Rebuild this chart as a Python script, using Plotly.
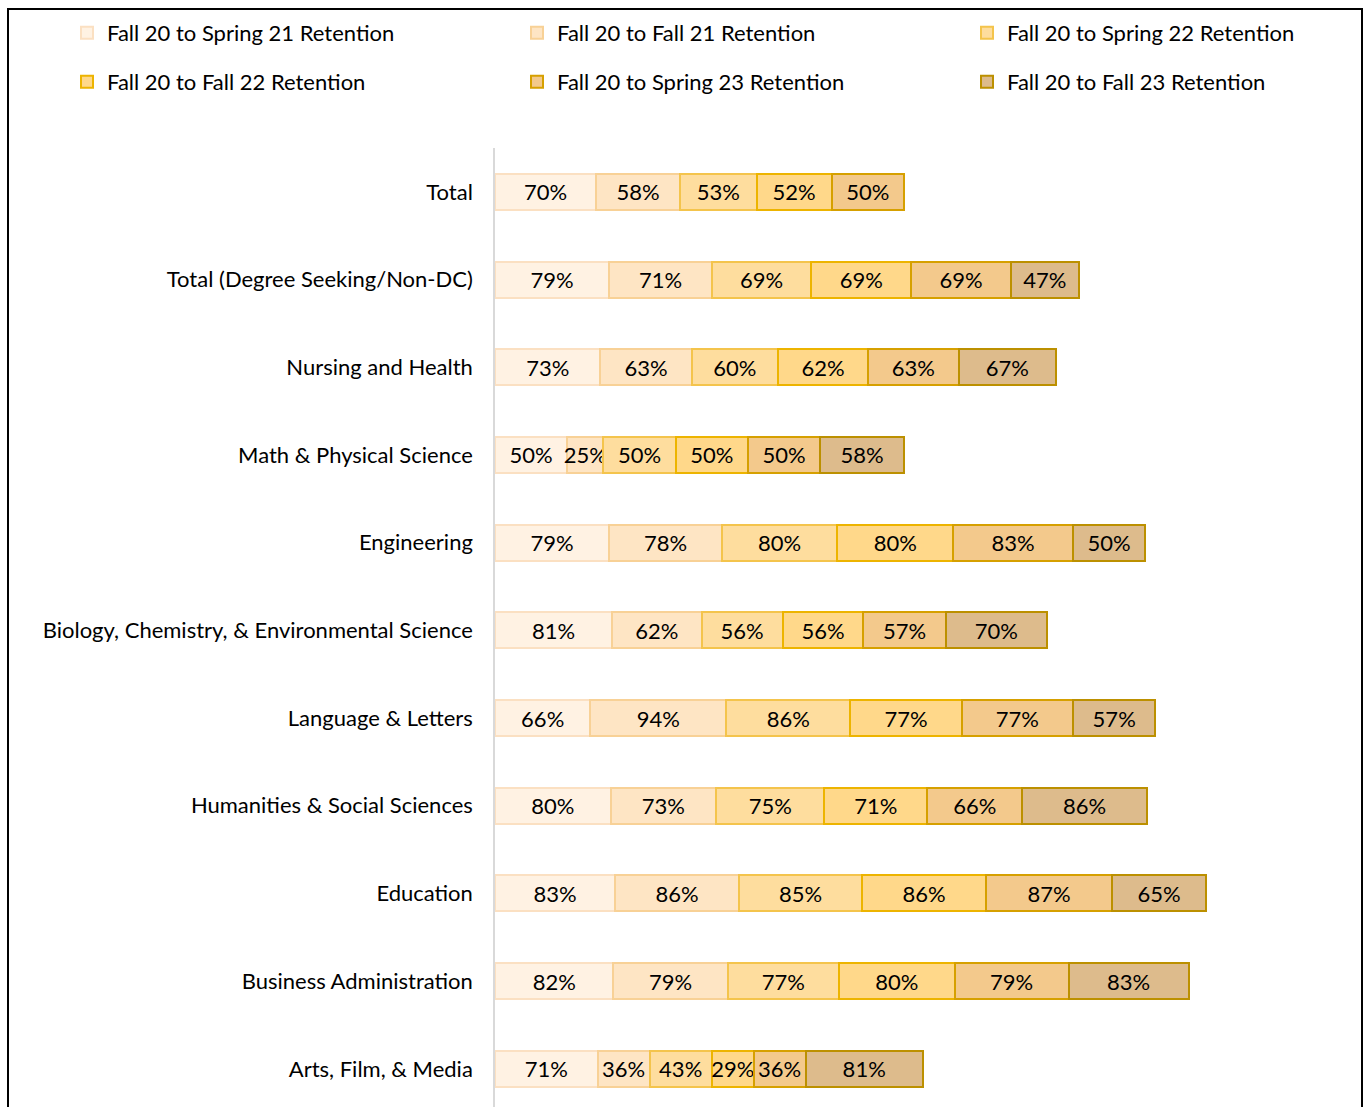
import plotly.graph_objects as go

categories = [
    "Total",
    "Total (Degree Seeking/Non-DC)",
    "Nursing and Health",
    "Math & Physical Science",
    "Engineering",
    "Biology, Chemistry, & Environmental Science",
    "Language & Letters",
    "Humanities & Social Sciences",
    "Education",
    "Business Administration",
    "Arts, Film, & Media",
]

series_names = [
    "Fall 20 to Spring 21 Retention",
    "Fall 20 to Fall 21 Retention",
    "Fall 20 to Spring 22 Retention",
    "Fall 20 to Fall 22 Retention",
    "Fall 20 to Spring 23 Retention",
    "Fall 20 to Fall 23 Retention",
]

spring21 = [70, 79, 73, 50, 79, 81, 66, 80, 83, 82, 71]
fall21 = [58, 71, 63, 25, 78, 62, 94, 73, 86, 79, 36]
spring22 = [53, 69, 60, 50, 80, 56, 86, 75, 85, 77, 43]
fall22 = [52, 69, 62, 50, 80, 56, 77, 71, 86, 80, 29]
spring23 = [50, 69, 63, 50, 83, 57, 77, 66, 87, 79, 36]
fall23 = [None, 47, 67, 58, 50, 70, 57, 86, 65, 83, 81]

series_values = [spring21, fall21, spring22, fall22, spring23, fall23]

fill_colors = ["#FFF2E3", "#FEE5C4", "#FEDD9E", "#FFD88A", "#F3C98C", "#DDBB8C"]
line_colors = ["#FBE0C2", "#F8D196", "#F4C44C", "#EDB400", "#D6A000", "#BC9000"]

FONT = "Lato"
FS = 22
W, H = 1364, 1107

legend_ids = ["legend", "legend2", "legend3", "legend4", "legend5", "legend6"]
legend_pos = [(67, 33), (517, 33), (967, 33), (67, 82), (517, 82), (967, 82)]

fig = go.Figure()
for i, (name, vals) in enumerate(zip(series_names, series_values)):
    fig.add_trace(go.Bar(
        y=categories,
        x=vals,
        name=name,
        orientation="h",
        marker=dict(color=fill_colors[i], line=dict(color=line_colors[i], width=2)),
        text=[f"{v}%" if v is not None else "" for v in vals],
        textposition="inside",
        insidetextanchor="middle",
        textangle=0,
        constraintext="none",
        textfont=dict(family=FONT, size=FS, color="#000000"),
        legend=legend_ids[i],
    ))

layout_legends = {}
for lid, (lx, ly) in zip(legend_ids, legend_pos):
    layout_legends[lid] = dict(
        orientation="h",
        x=lx / W, xanchor="left",
        y=1 - ly / H, yanchor="middle",
        font=dict(family=FONT, size=FS, color="#000000"),
        bgcolor="rgba(0,0,0,0)",
    )

fig.update_layout(
    width=W, height=H,
    margin=dict(l=0, r=0, t=0, b=0),
    barmode="stack",
    bargap=0.59,
    plot_bgcolor="white",
    paper_bgcolor="white",
    font=dict(family=FONT, size=FS, color="#000000"),
    xaxis=dict(
        domain=[495 / W, 1362 / W],
        range=[0, 600],
        visible=False,
        fixedrange=True,
    ),
    yaxis=dict(
        domain=[0, 1 - 148 / H],
        range=[10.435, -0.5],
        showline=True,
        linecolor="#D9D9D9",
        linewidth=1.5,
        showgrid=False,
        ticks="",
        ticklabelstandoff=16,
        tickfont=dict(family=FONT, size=FS, color="#000000"),
        automargin=False,
    ),
    shapes=[dict(
        type="rect", xref="paper", yref="paper",
        x0=8 / W, x1=1362 / W, y0=-0.05, y1=1 - 9 / H,
        line=dict(color="#000000", width=2),
        fillcolor="rgba(0,0,0,0)",
        layer="below",
    )],
    showlegend=True,
    **layout_legends,
)

fig.write_html(
    "out.html",
    config={"displayModeBar": False},
    post_script="document.body.style.margin='0px';document.body.style.overflow='hidden';",
)
